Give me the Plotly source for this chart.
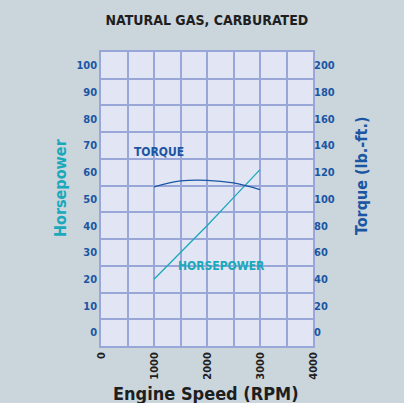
import plotly.graph_objects as go

# Data
rpm = [1000, 1500, 2000, 2500, 3000]
horsepower = [20, 30, 40, 50.5, 61]
torque = [109, 113.5, 114, 112, 107]

x_ticks = [0, 1000, 2000, 3000, 4000]
hp_ticks = [0, 10, 20, 30, 40, 50, 60, 70, 80, 90, 100]
tq_ticks = [0, 20, 40, 60, 80, 100, 120, 140, 160, 180, 200]

GRID = "#99a6d8"
BLUE = "#1b56a3"
TEAL = "#1aa9ba"
DARK = "#1e1e1e"
FONT = "DejaVu Sans Condensed, Liberation Sans Narrow, Liberation Sans, Arial"

W, H = 404, 403
L, R, T, B = 101, 91, 52, 57
pw, ph = W - L - R, H - T - B


def px_x(px):
    return (px - L) / pw


def px_y(py):
    return (H - B - py) / ph


fig = go.Figure()
fig.add_trace(go.Scatter(x=rpm, y=horsepower, mode="lines", yaxis="y",
                         line=dict(color=TEAL, width=1.3), showlegend=False, hoverinfo="skip"))
fig.add_trace(go.Scatter(x=rpm, y=torque, mode="lines", yaxis="y2",
                         line=dict(color=BLUE, width=1.3, shape="spline"), showlegend=False,
                         hoverinfo="skip"))

tickfont_blue = dict(size=11, color=BLUE, family=FONT, weight="bold")

fig.update_layout(
    width=W, height=H,
    margin=dict(l=L, r=R, t=T, b=B),
    paper_bgcolor="#cbd5dc",
    plot_bgcolor="#e2e5f3",
    font=dict(family=FONT),
    title=dict(text="NATURAL GAS, CARBURATED", x=0.512, xanchor="center",
               y=0.95, yanchor="middle",
               font=dict(size=14, color=DARK, family=FONT, weight="bold")),
    xaxis=dict(range=[0, 4000], tickvals=x_ticks, tickangle=-90, automargin=False,
               showgrid=True, gridcolor=GRID, gridwidth=1.5, zeroline=False,
               showline=True, linecolor=GRID, linewidth=1.5, mirror=True, ticks="",
               minor=dict(dtick=500, tick0=0, showgrid=True, gridcolor=GRID,
                          gridwidth=1.5, ticks=""),
               tickfont=dict(size=11, color=DARK, family=FONT, weight="bold")),
    yaxis=dict(range=[-5, 105], tickvals=hp_ticks, automargin=False,
               showgrid=False, zeroline=False,
               showline=True, linecolor=GRID, linewidth=1.5, mirror=True, ticks="",
               minor=dict(dtick=10, tick0=-5, showgrid=True, gridcolor=GRID,
                          gridwidth=1.5, ticks=""),
               tickfont=tickfont_blue),
    yaxis2=dict(range=[-10, 210], tickvals=tq_ticks, overlaying="y", side="right",
                automargin=False, showgrid=False, zeroline=False, ticks="",
                tickfont=tickfont_blue),
)

fig.add_annotation(x=px_x(60), y=px_y(188), xref="paper", yref="paper", text="Horsepower",
                   textangle=-90, showarrow=False, xanchor="center", yanchor="middle",
                   font=dict(size=16, color=TEAL, family=FONT, weight="bold"))
fig.add_annotation(x=px_x(361), y=px_y(176), xref="paper", yref="paper",
                   text="Torque (lb.-ft.)",
                   textangle=-90, showarrow=False, xanchor="center", yanchor="middle",
                   font=dict(size=16, color=BLUE, family=FONT, weight="bold"))
fig.add_annotation(x=px_x(206), y=px_y(393), xref="paper", yref="paper",
                   text="Engine Speed (RPM)",
                   showarrow=False, xanchor="center", yanchor="middle",
                   font=dict(size=18, color=DARK, family=FONT, weight="bold"))
fig.add_annotation(x=1000, y=135, xref="x", yref="y2", text="TORQUE",
                   showarrow=False, xanchor="center", xshift=5,
                   font=dict(size=12, color=BLUE, family=FONT, weight="bold"))
fig.add_annotation(x=2270, y=25, xref="x", yref="y", text="HORSEPOWER",
                   showarrow=False, xanchor="center",
                   font=dict(size=12, color=TEAL, family=FONT, weight="bold"))

fig.write_html("out.html", config={"displayModeBar": False},
               post_script="document.body.style.margin='0';document.body.style.overflow='hidden';")
